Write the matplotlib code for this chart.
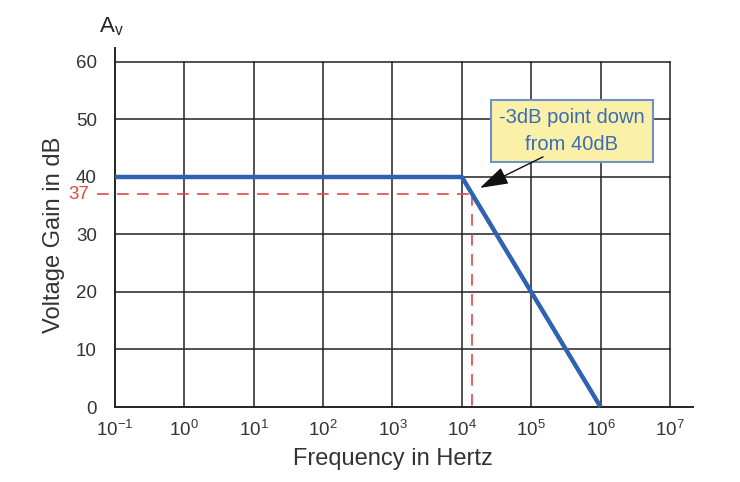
import numpy as np
import matplotlib
matplotlib.use('Agg')
import matplotlib.pyplot as plt

plt.rcParams['font.family'] = ['Liberation Sans', 'DejaVu Sans']
plt.rcParams['mathtext.fontset'] = 'custom'
plt.rcParams['mathtext.rm'] = 'Liberation Sans'
plt.rcParams['mathtext.it'] = 'Liberation Sans'
plt.rcParams['axes.unicode_minus'] = False

# bode plot corners (Hz, dB)
freq = [0.1, 1e4, 1e6]
gain = [40, 40, 0]

# -3dB point
f_3db = 10 ** 4.15
g_3db = 37

decades = [-1, 0, 1, 2, 3, 4, 5, 6, 7]
yticks = [0, 10, 20, 30, 40, 50, 60]

txt_col = '#333333'
blue = '#2f62b0'
red = '#e04848'

fig = plt.figure(figsize=(7.4, 4.82), dpi=100)
ax = fig.add_axes([0.1554, 0.1556, 0.75, 0.7158])

ax.set_xscale('log')
ax.set_xlim(0.1, 1e7)
ax.set_ylim(0, 60)

# grid
for d in decades[1:]:
    ax.axvline(10.0 ** d, color='#222222', lw=1.1, zorder=1, clip_on=False)
for y in yticks[1:]:
    ax.axhline(y, color='#222222', lw=1.1, zorder=1, clip_on=False)

for s in ax.spines.values():
    s.set_visible(False)
# axis lines run a little past the grid
ax.plot([0, 0], [0, 1.04], transform=ax.transAxes, color='#222222', lw=1.4, clip_on=False, zorder=2)
ax.plot([0, 1.041], [0, 0], transform=ax.transAxes, color='#222222', lw=1.4, clip_on=False, zorder=2)

# red dashed -3dB guides
ax.plot([0.055, f_3db], [g_3db, g_3db], color=red, lw=1.2, dashes=(7, 5), clip_on=False, zorder=3)
ax.plot([f_3db, f_3db], [g_3db, 0], color=red, lw=1.2, dashes=(7, 5), zorder=3)

# response
ax.plot(freq, gain, color=blue, lw=3.2, solid_capstyle='butt', clip_on=False, zorder=4)

ax.set_xticks([10.0 ** d for d in decades])
ax.set_xticklabels([r'$\mathregular{10^{%d}}$' % d for d in decades])
ax.minorticks_off()
ax.set_yticks(yticks)
ax.tick_params(axis='both', length=0, labelsize=13.5, colors=txt_col)
ax.tick_params(axis='x', pad=9)
ax.tick_params(axis='y', pad=13)
ax.text(0.043, g_3db, '37', color=red, fontsize=13.5, ha='right', va='center', clip_on=False)

ax.set_xlabel('Frequency in Hertz', fontsize=17, color=txt_col, labelpad=6)
ax.set_ylabel('Voltage Gain in dB', fontsize=17, color=txt_col, labelpad=8)

ax.text(-0.006, 1.07, r'A$_\mathregular{v}$', transform=ax.transAxes, fontsize=16,
        color='#222222', ha='center', va='bottom')

# callout
ax.text(10 ** 5.585, 48, '-3dB point down\nfrom 40dB', fontsize=14.5, color='#3a6cb4',
        ha='center', va='center', linespacing=1.5, zorder=6,
        bbox=dict(boxstyle='square,pad=0.42', fc='#fbf0a8', ec='#6f93c8', lw=1.5))
ax.annotate('', xy=(10 ** 4.26, 38.1), xytext=(10 ** 5.17, 43.5),
            arrowprops=dict(arrowstyle='-|>,head_length=0.8,head_width=0.25', color='#111111', lw=1.0,
                            mutation_scale=22, shrinkA=0, shrinkB=0), zorder=6)

plt.savefig('out.png', dpi=100)
plt.close()
